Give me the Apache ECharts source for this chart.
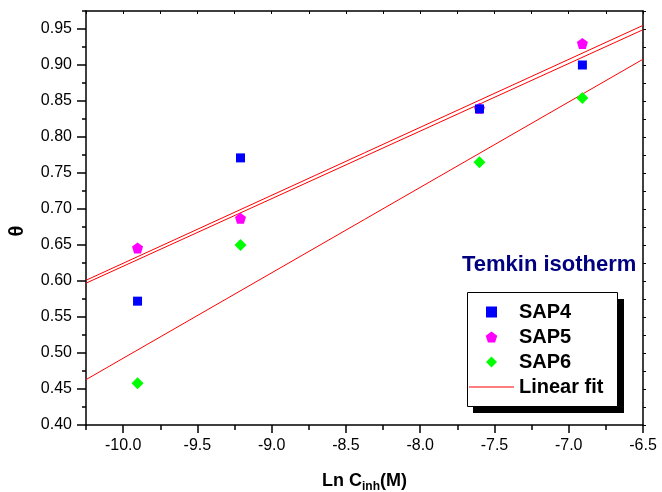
<!DOCTYPE html>
<html>
<head>
<meta charset="utf-8">
<script src="https://cdn.jsdelivr.net/npm/echarts@6/dist/echarts.min.js"></script>
<style>
  html, body { margin: 0; padding: 0; background: #fff; }
  #chart { width: 662px; height: 492px; }
</style>
</head>
<body>
<div id="chart"></div>
<script>
// concentrations, ln C (M)
var lnC = [-9.903, -9.210, -7.601, -6.908];
var sap4 = [0.572, 0.771, 0.839, 0.900];
var sap5 = [0.646, 0.687, 0.840, 0.930];
var sap6 = [0.458, 0.650, 0.765, 0.854];

// fit lines, read at the two ends of the x axis
var fitX = [-10.25, -6.5];
var fit4 = [0.597, 0.949];
var fit5 = [0.601, 0.955];
var fit6 = [0.463, 0.908];

var xTicks = [-10.0, -9.5, -9.0, -8.5, -8.0, -7.5, -7.0, -6.5];
var xMinor = [-10.25, -9.75, -9.25, -8.75, -8.25, -7.75, -7.25, -6.75];
var yTicks = [0.40, 0.45, 0.50, 0.55, 0.60, 0.65, 0.70, 0.75, 0.80, 0.85, 0.90, 0.95];
var yMinor = [0.425, 0.475, 0.525, 0.575, 0.625, 0.675, 0.725, 0.775, 0.825, 0.875, 0.925, 0.975];

var font = 'Liberation Sans, Arial, sans-serif';

function pts(xs, ys) {
  var out = [];
  for (var i = 0; i < xs.length; i++) out.push([xs[i], ys[i]]);
  return out;
}

var square = 'path://M0,0L1,0L1,1L0,1Z';
var pentagon = 'path://M0,-1L0.951,-0.309L0.588,0.809L-0.588,0.809L-0.951,-0.309Z';
var diamond = 'path://M0,-1L1,0L0,1L-1,0Z';
var flatLine = 'path://M0,0L45,0L45,1L0,1Z';

var myChart = echarts.init(document.getElementById('chart'));

var axisLine = { show: true, lineStyle: { color: '#000', width: 1.5 } };

var option = {
  animation: false,
  backgroundColor: '#fff',
  title: {
    text: 'Temkin isotherm',
    left: 462,
    top: 254,
    padding: 0,
    textStyle: { color: '#000080', fontFamily: font, fontWeight: 'bold', fontSize: 22 }
  },
  // legend frame with its hard black shadow
  graphic: [
    { type: 'rect', left: 473, top: 299, shape: { width: 151, height: 114 }, style: { fill: '#000' }, z: 10 },
    { type: 'rect', left: 467, top: 292, shape: { width: 150, height: 114 }, style: { fill: '#fff', stroke: '#000', lineWidth: 1 }, z: 11 }
  ],
  legend: {
    orient: 'vertical',
    left: 467,
    top: 292,
    z: 20,
    padding: [10, 14, 10, 2],
    itemWidth: 45,
    itemHeight: 11,
    itemGap: 5,
    symbolKeepAspect: true,
    textStyle: { color: '#000', fontFamily: font, fontWeight: 'bold', fontSize: 20, lineHeight: 20 },
    data: [
      { name: 'SAP4', icon: square, itemStyle: { color: '#0000ff' } },
      { name: 'SAP5', icon: pentagon },
      { name: 'SAP6', icon: diamond },
      { name: 'Linear fit', icon: flatLine }
    ]
  },
  grid: { left: 86, right: 19, top: 11, bottom: 67, outerBoundsMode: 'none', containLabel: false },
  xAxis: [
    {
      type: 'value', min: -10.25, max: -6.5, position: 'bottom',
      axisLine: axisLine,
      splitLine: { show: false },
      axisTick: { customValues: xTicks, length: 8, lineStyle: { color: '#000', width: 1.5 } },
      axisLabel: {
        customValues: xTicks, margin: 13, color: '#000', fontFamily: font, fontSize: 16,
        formatter: function (v) { return v.toFixed(1); }
      },
      name: '{a|Ln C}{b|inh}{a|(M)}',
      nameLocation: 'middle',
      nameGap: 44,
      nameTextStyle: {
        rich: {
          a: { fontFamily: font, fontWeight: 'bold', fontSize: 18, color: '#000' },
          b: { fontFamily: font, fontWeight: 'bold', fontSize: 12, color: '#000', padding: [12, 0, 0, 0] }
        }
      }
    },
    {
      type: 'value', min: -10.25, max: -6.5, position: 'bottom',
      axisLine: { show: false },
      splitLine: { show: false },
      axisTick: { customValues: xMinor, length: 5, lineStyle: { color: '#000', width: 1.5 } },
      axisLabel: { show: false }
    },
    {
      type: 'value', min: -10.25, max: -6.5, position: 'top',
      axisLine: axisLine,
      splitLine: { show: false },
      axisTick: { customValues: xTicks.concat(xMinor), inside: true, length: 3, lineStyle: { color: '#000', width: 1 } },
      axisLabel: { show: false }
    }
  ],
  yAxis: [
    {
      type: 'value', min: 0.40, max: 0.975, position: 'left',
      axisLine: axisLine,
      splitLine: { show: false },
      axisTick: { customValues: yTicks, length: 9, lineStyle: { color: '#000', width: 1.5 } },
      axisLabel: {
        customValues: yTicks, margin: 14, color: '#000', fontFamily: font, fontSize: 16,
        formatter: function (v) { return v.toFixed(2); }
      },
      name: 'θ',
      nameLocation: 'middle',
      nameRotate: 90,
      nameGap: 59,
      nameTextStyle: { fontFamily: font, fontWeight: 'bold', fontSize: 20, color: '#000', padding: [0, 26, 0, 0] }
    },
    {
      type: 'value', min: 0.40, max: 0.975, position: 'left',
      axisLine: { show: false },
      splitLine: { show: false },
      axisTick: { customValues: yMinor, length: 4, lineStyle: { color: '#000', width: 1.5 } },
      axisLabel: { show: false }
    },
    {
      type: 'value', min: 0.40, max: 0.975, position: 'right',
      axisLine: axisLine,
      splitLine: { show: false },
      axisTick: { customValues: yTicks.concat(yMinor), length: 3, lineStyle: { color: '#000', width: 1 } },
      axisLabel: { show: false }
    }
  ],
  series: [
    {
      name: 'SAP4', type: 'scatter', z: 4,
      symbol: 'rect', symbolSize: 9,
      itemStyle: { color: '#0000ff', opacity: 1 },
      data: pts(lnC, sap4)
    },
    {
      name: 'SAP5', type: 'scatter', z: 3,
      symbol: pentagon, symbolSize: 11,
      itemStyle: { color: '#ff00ff', opacity: 1 },
      data: pts(lnC, sap5)
    },
    {
      name: 'SAP6', type: 'scatter', z: 3,
      symbol: diamond, symbolSize: 12,
      itemStyle: { color: '#00ff00', opacity: 1 },
      data: pts(lnC, sap6)
    },
    {
      name: 'Linear fit', type: 'line', symbol: 'none', z: 2,
      lineStyle: { color: '#ff0000', width: 1 }, itemStyle: { color: '#ff0000' },
      data: pts(fitX, fit4)
    },
    {
      name: 'Linear fit', type: 'line', symbol: 'none', z: 2,
      lineStyle: { color: '#ff0000', width: 1 }, itemStyle: { color: '#ff0000' },
      data: pts(fitX, fit5)
    },
    {
      name: 'Linear fit', type: 'line', symbol: 'none', z: 2,
      lineStyle: { color: '#ff0000', width: 1 }, itemStyle: { color: '#ff0000' },
      data: pts(fitX, fit6)
    }
  ]
};

myChart.setOption(option);
</script>
</body>
</html>
